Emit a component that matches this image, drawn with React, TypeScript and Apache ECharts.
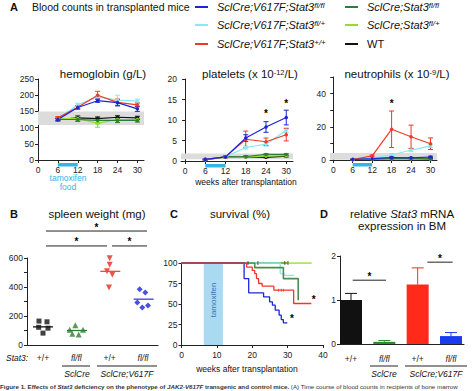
import React, { useEffect, useRef } from 'react';
import * as echarts from 'echarts';

// ---------- DATA ----------
const weeks = [6, 12, 18, 24, 30];

const hgbBlue = [125, 162, 183, 177, 158];
const hgbBlueErr = [4, 5, 5, 10, 8];
const hgbCyan = [128, 170, 195, 185, 182];
const hgbCyanErr = [4, 5, 6, 15, 6];
const hgbRed = [130, 163, 200, 178, 170];
const hgbRedErr = [4, 5, 12, 10, 6];
const hgbDkGreen = [125, 125, 122, 122, 122];
const hgbDkGreenErr = [4, 6, 8, 6, 5];
const hgbLtGreen = [128, 128, 113, 125, 125];
const hgbLtGreenErr = [4, 5, 12, 10, 5];
const hgbBlack = [125, 130, 128, 132, 130];
const hgbBlackErr = [4, 6, 5, 5, 5];
const hgbNormal = [108, 150];

const pltBlue = [0.4, 1.0, 5.6, 8.3, 10.6];
const pltBlueErr = [0.1, 0.2, 0.8, 1.3, 1.8];
const pltCyan = [0.4, 1.0, 3.3, 4.1, 7.5];
const pltCyanErr = [0.1, 0.2, 0.4, 0.5, 0.6];
const pltRed = [0.4, 1.0, 5.3, 4.7, 6.4];
const pltRedErr = [0.1, 0.2, 2.0, 0.9, 1.5];
const pltDkGreen = [0.3, 1.0, 1.1, 1.6, 1.6];
const pltDkGreenErr = [0.1, 0.1, 0.2, 0.2, 0.2];
const pltLtGreen = [0.3, 0.9, 1.0, 1.2, 1.3];
const pltLtGreenErr = [0.1, 0.1, 0.1, 0.1, 0.1];
const pltBlack = [0.3, 1.0, 1.0, 0.9, 1.2];
const pltBlackErr = [0.1, 0.1, 0.1, 0.1, 0.2];
const pltNormal = [0.4, 1.8];
const pltStars = [[24, 11.7], [30, 14.1]];

const neuBlue = [0.3, 0.8, 1.5, 1.3, 1.8];
const neuBlueErr = [0.1, 0.2, 0.4, 0.3, 0.5];
const neuCyan = [0.3, 1.0, 3.0, 6.0, 8.5];
const neuCyanErr = [0.1, 0.2, 0.8, 1.0, 1.0];
const neuRed = [0.3, 2.5, 18.5, 14, 9.8];
const neuRedErr = [0.1, 0.5, 11, 7, 3.5];
const neuDkGreen = [0.3, 0.5, 0.8, 0.8, 0.5];
const neuLtGreen = [0.3, 0.5, 0.7, 0.7, 0.5];
const neuBlack = [0.3, 0.8, 1.0, 1.0, 1.0];
const neuSmallErr = [0.1, 0.1, 0.2, 0.2, 0.2];
const neuNormal = [0.2, 4.2];
const neuStars = [[18, 34]];

const tamoxifenWeeks = [6, 12];

const spleenBlack = [[0.88, 165], [1.12, 160], [0.87, 122], [1.15, 116], [1.0, 82]];
const spleenGreen = [[1.97, 136], [1.8, 105], [2.2, 105], [2.07, 72], [1.88, 78]];
const spleenRed = [[3.0, 598], [3.0, 553], [2.92, 508], [3.08, 485], [2.98, 397]];
const spleenBlue = [[3.9, 385], [4.07, 362], [3.83, 293], [4.15, 272], [3.98, 258]];
const spleenMeans = [[1, 125], [2.02, 100], [3.02, 508], [4.02, 316]];
const spleenSig = [[1.09, 4.12, 786], [1.09, 2.92, 683], [3.07, 4.12, 683]];
const groupLabels = ['+/+', 'fl/fl', '+/+', 'fl/fl'];

const survBlue = [[0, 100], [17.7, 81], [19, 63.6], [23.2, 58.7], [24.9, 52.6], [25.7, 48.6], [26.5, 42.5], [27.6, 36.4], [28.2, 31], [28.8, 27], [29.9, 27]];
const survRed = [[0, 100], [18.4, 95], [20, 91], [20.7, 87], [21.2, 81], [21.8, 75], [22.8, 71.7], [26.1, 66.8], [31.7, 50.6], [36.7, 50.6]];
const survDkGreen = [[0, 100], [20.7, 94.3], [28.8, 81], [33, 54.7]];
const survCyan = [[0, 100], [27.9, 87], [29, 85], [31.9, 85]];
const survLtGreen = [[0, 100], [36.8, 100]];
const survBlack = [[0, 100], [30, 100]];
const survCensorTop = [[18.8, 100], [21.6, 100], [29.2, 100], [30.1, 100]];
const survCensorRed = [[27.4, 66.8], [28.2, 66.8], [28.8, 66.8]];
const survStars = [[31.2, 32], [37.4, 56]];
const survTamoxifen = [6.3, 11.7];

const mrnaValues = [1.0, 0.05, 1.35, 0.18];
const mrnaErr = [0.15, 0.03, 0.38, 0.08];
const mrnaSig = [[1.05, 2.05, 1.45], [3.29, 4.05, 1.86]];

// ---------- STYLE ----------
const C = {
  blue: '#1c24d8',
  cyan: '#86eaf0',
  red: '#f0382a',
  dkgreen: '#2f7d34',
  ltgreen: '#8ee030',
  black: '#111111',
  tam: '#33b5e8',
};
const FONT = '"Liberation Sans", Arial, Helvetica, sans-serif';

function errSeries(g: number, color: string, vals: number[], errs: number[], xs = weeks, upOnly = false, cap = 2.5) {
  return {
    type: 'custom',
    xAxisIndex: g,
    yAxisIndex: g,
    z: 3,
    renderItem: (_p: any, api: any) => {
      const x = api.value(0);
      const p1 = api.coord([x, api.value(1)]);
      const p2 = api.coord([x, api.value(2)]);
      const st = { stroke: color, lineWidth: 1 };
      const ch: any[] = [
        { type: 'line', shape: { x1: p1[0], y1: p1[1], x2: p2[0], y2: p2[1] }, style: st },
        { type: 'line', shape: { x1: p2[0] - cap, y1: p2[1], x2: p2[0] + cap, y2: p2[1] }, style: st },
      ];
      if (!upOnly) ch.push({ type: 'line', shape: { x1: p1[0] - cap, y1: p1[1], x2: p1[0] + cap, y2: p1[1] }, style: st });
      return { type: 'group', children: ch };
    },
    data: xs.map((w, i) => [w, upOnly ? vals[i] : vals[i] - errs[i], vals[i] + errs[i]]),
    encode: { x: 0, y: [1, 2] },
  };
}

function lineSeries(g: number, color: string, vals: number[], extra: any = {}) {
  return {
    type: 'line',
    xAxisIndex: g,
    yAxisIndex: g,
    data: weeks.map((w, i) => [w, vals[i]]),
    symbol: 'circle',
    symbolSize: 3.5,
    z: 4,
    lineStyle: { color, width: 1.2 },
    itemStyle: { color },
    ...extra,
  };
}

function starSeries(g: number, pts: number[][]) {
  return {
    type: 'custom',
    xAxisIndex: g,
    yAxisIndex: g,
    clip: false,
    z: 6,
    renderItem: (_p: any, api: any) => {
      const c = api.coord([api.value(0), api.value(1)]);
      return {
        type: 'text',
        x: c[0],
        y: c[1],
        style: { text: '*', fill: '#000', font: `bold 10px ${FONT}`, align: 'center', verticalAlign: 'middle', textAlign: 'center', textVerticalAlign: 'middle' },
      };
    },
    data: pts,
  };
}

function sigSeries(g: number, rows: number[][]) {
  return {
    type: 'custom',
    xAxisIndex: g,
    yAxisIndex: g,
    clip: false,
    z: 6,
    renderItem: (_p: any, api: any) => {
      const a = api.coord([api.value(0), api.value(2)]);
      const b = api.coord([api.value(1), api.value(2)]);
      return {
        type: 'group',
        children: [
          { type: 'line', shape: { x1: a[0], y1: a[1], x2: b[0], y2: b[1] }, style: { stroke: '#222', lineWidth: 1 } },
          {
            type: 'text',
            x: (a[0] + b[0]) / 2,
            y: a[1] - 4,
            style: { text: '*', fill: '#000', font: `bold 10px ${FONT}`, align: 'center', verticalAlign: 'middle', textAlign: 'center', textVerticalAlign: 'middle' },
          },
        ],
      };
    },
    data: rows,
  };
}

function tamBarSeries(g: number, ymin: number) {
  return {
    type: 'custom',
    xAxisIndex: g,
    yAxisIndex: g,
    clip: false,
    z: 6,
    renderItem: (_p: any, api: any) => {
      const a = api.coord([api.value(0), ymin]);
      const b = api.coord([api.value(1), ymin]);
      return { type: 'rect', shape: { x: a[0], y: a[1] + 3, width: b[0] - a[0], height: 3.5 }, style: { fill: C.tam } };
    },
    data: [tamoxifenWeeks],
  };
}

function bandArea(range: number[]) {
  return {
    silent: true,
    itemStyle: { color: '#dcdcdc' },
    data: [[{ yAxis: range[0] }, { yAxis: range[1] }]],
  };
}

const axisLineStyle = { lineStyle: { color: '#222', width: 1 } };
const tickStyle = { show: true, length: 3, lineStyle: { color: '#222' } };
const labelStyle = { fontSize: 8.5, color: '#222', fontFamily: FONT, margin: 4 };

function valX(g: number, min: number, max: number, custom: number[], fmt?: any) {
  return {
    type: 'value',
    gridIndex: g,
    min,
    max,
    splitLine: { show: false },
    axisLine: axisLineStyle,
    axisTick: { ...tickStyle, customValues: custom },
    axisLabel: { ...labelStyle, customValues: custom, formatter: fmt, margin: 5 },
  };
}
function valY(g: number, max: number, interval: number, labelEvery?: number) {
  return {
    type: 'value',
    gridIndex: g,
    min: 0,
    max,
    interval,
    splitLine: { show: false },
    axisLine: { show: true, ...axisLineStyle },
    axisTick: tickStyle,
    axisLabel: {
      ...labelStyle,
      formatter: (v: number) => (labelEvery ? (Math.round(v) % labelEvery === 0 ? String(v) : '') : String(v)),
    },
  };
}

const sixes = [0, 6, 12, 18, 24, 30];

function T(x: number, y: number, text: string, o: any = {}) {
  return {
    type: 'text',
    x,
    y,
    rotation: o.rotation || 0,
    z: 10,
    style: {
      text,
      fill: o.fill || '#111',
      font: `${o.style || 'normal'} ${o.weight || 'normal'} ${o.size || 10}px ${FONT}`,
      textAlign: o.align || 'center',
      textVerticalAlign: 'middle',
      align: o.align || 'center',
      verticalAlign: 'middle',
      rich: o.rich,
    },
  };
}
function L(x1: number, y1: number, x2: number, y2: number, color = '#222', w = 1) {
  return { type: 'line', z: 10, shape: { x1, y1, x2, y2 }, style: { stroke: color, lineWidth: w } };
}

const supRich = (size: number) => ({
  i: { fontStyle: 'italic', fontSize: size, fontFamily: FONT, fill: '#111', color: '#111' },
  s: { fontStyle: 'italic', fontSize: size - 3, fontFamily: FONT, verticalAlign: 'top', color: '#111' },
  n: { fontSize: size - 3, fontFamily: FONT, verticalAlign: 'top', color: '#111' },
});

const legendItems = [
  { x: 195, y: 7, color: C.blue, text: '{i|SclCre;V617F;Stat3}{s|fl/fl}' },
  { x: 195, y: 25, color: C.cyan, text: '{i|SclCre;V617F;Stat3}{s|fl/+}' },
  { x: 195, y: 44, color: C.red, text: '{i|SclCre;V617F;Stat3}{s|+/+}' },
  { x: 345, y: 7, color: C.dkgreen, text: '{i|SclCre;Stat3}{s|fl/fl}' },
  { x: 345, y: 25, color: C.ltgreen, text: '{i|SclCre;Stat3}{s|fl/+}' },
  { x: 345, y: 44, color: C.black, text: 'WT' },
];

export default function App() {
  const ref = useRef<HTMLDivElement>(null);
  useEffect(() => {
    if (!ref.current) return;
    const chart = echarts.init(ref.current, undefined, { renderer: 'svg' });

    const graphic: any[] = [];
    // Panel A header
    graphic.push(T(10, 7, 'A', { weight: 'bold', size: 11, align: 'left' }));
    graphic.push(T(32, 7, 'Blood counts in transplanted mice', { size: 10.5, align: 'left' }));
    legendItems.forEach((it) => {
      graphic.push(L(it.x, it.y, it.x + 13, it.y, it.color, 2));
      graphic.push(T(it.x + 22, it.y, it.text, { size: 11, align: 'left', rich: supRich(11) }));
    });
    graphic.push(T(103, 74, 'hemoglobin (g/L)', { size: 11.5 }));
    graphic.push(T(250, 74, 'platelets (x 10{n|-12}/L)', { size: 11.5, rich: { n: { fontSize: 7.5, verticalAlign: 'top', fontFamily: FONT } } }));
    graphic.push(T(397, 74, 'neutrophils (x 10{n|-9}/L)', { size: 11.5, rich: { n: { fontSize: 7.5, verticalAlign: 'top', fontFamily: FONT } } }));
    graphic.push(T(68, 178, 'tamoxifen', { size: 8.5, fill: C.tam }));
    graphic.push(T(68, 187, 'food', { size: 8.5, fill: C.tam }));
    graphic.push(T(246, 182, 'weeks after transplantation', { size: 8.5 }));

    // Panel B
    graphic.push(T(10, 214, 'B', { weight: 'bold', size: 11, align: 'left' }));
    graphic.push(T(97, 214, 'spleen weight (mg)', { size: 11.5 }));
    graphic.push(T(6, 358, 'Stat3:', { size: 8.5, style: 'italic', align: 'left' }));
    graphic.push(L(62, 366, 90, 366));
    graphic.push(T(77, 374, 'SclCre', { size: 8.5, style: 'italic' }));
    graphic.push(L(97, 366, 157, 366));
    graphic.push(T(127, 374, 'SclCre;V617F', { size: 8.5, style: 'italic' }));

    // Panel C
    graphic.push(T(170, 214, 'C', { weight: 'bold', size: 11, align: 'left' }));
    graphic.push(T(240, 214, 'survival (%)', { size: 11.5 }));
    graphic.push(T(213, 300, 'tamoxifen', { size: 8, fill: '#3b6fb8', rotation: Math.PI / 2 }));
    graphic.push(T(247, 369, 'weeks after transplantation', { size: 8.5 }));

    // Panel D
    graphic.push(T(320, 214, 'D', { weight: 'bold', size: 11, align: 'left' }));
    graphic.push(T(402, 214, 'relative {i|Stat3} mRNA', { size: 11.5, rich: { i: { fontStyle: 'italic', fontSize: 11.5, fontFamily: FONT } } }));
    graphic.push(T(402, 226, 'expression in BM', { size: 11.5 }));
    graphic.push(L(370, 366, 398, 366));
    graphic.push(T(384, 374, 'SclCre', { size: 8.5, style: 'italic' }));
    graphic.push(L(405, 366, 467, 366));
    graphic.push(T(436, 374, 'SclCre;V617F', { size: 8.5, style: 'italic' }));

    // caption
    graphic.push({
      type: 'text',
      x: 0,
      y: 386.5,
      z: 10,
      style: {
        text: '{b|Figure 1. Effects of }{bi|Stat3}{b| deficiency on the phenotype of }{bi|JAK2-V617F}{b| transgenic and control mice.} (A) Time course of blood counts in recipients of bone marrow',
        font: `6.2px ${FONT}`,
        fill: '#333',
        textVerticalAlign: 'middle',
        verticalAlign: 'middle',
        rich: {
          b: { fontWeight: 'bold', fontSize: 6.2, fontFamily: FONT, fill: '#333', color: '#333' },
          bi: { fontWeight: 'bold', fontStyle: 'italic', fontSize: 6.2, fontFamily: FONT, color: '#333' },
        },
      },
    });

    const labelFmtGroup = (v: number) => {
      const s = groupLabels[Math.round(v) - 1] || '';
      return s === 'fl/fl' ? '{i|fl/fl}' : s;
    };
    const groupRich = { i: { fontStyle: 'italic', fontSize: 8.5, fontFamily: FONT, color: '#222' } };

    const xB: any = valX(3, 0.52, 4.45, [1, 2, 3, 4], labelFmtGroup);
    xB.axisTick = { show: false };
    xB.axisLabel.rich = groupRich;
    xB.axisLabel.margin = 8;
    const xD: any = valX(5, 0.67, 4.39, [1, 2, 3, 4], labelFmtGroup);
    xD.axisTick = { show: false };
    xD.axisLabel.rich = groupRich;
    xD.axisLabel.margin = 10;

    const series: any[] = [];
    // Panel A series
    const aSets = [
      { g: 0, d: [hgbBlack, hgbLtGreen, hgbDkGreen, hgbCyan, hgbRed, hgbBlue], e: [hgbBlackErr, hgbLtGreenErr, hgbDkGreenErr, hgbCyanErr, hgbRedErr, hgbBlueErr], band: hgbNormal },
      { g: 1, d: [pltBlack, pltLtGreen, pltDkGreen, pltCyan, pltRed, pltBlue], e: [pltBlackErr, pltLtGreenErr, pltDkGreenErr, pltCyanErr, pltRedErr, pltBlueErr], band: pltNormal },
      { g: 2, d: [neuBlack, neuLtGreen, neuDkGreen, neuCyan, neuRed, neuBlue], e: [neuSmallErr, neuSmallErr, neuSmallErr, neuCyanErr, neuRedErr, neuBlueErr], band: neuNormal },
    ];
    const aColors = [C.black, C.ltgreen, C.dkgreen, C.cyan, C.red, C.blue];
    aSets.forEach((set) => {
      set.d.forEach((vals, k) => {
        const extra: any = k === 0 ? { markArea: bandArea(set.band) } : {};
        series.push(lineSeries(set.g, aColors[k], vals, extra));
        series.push(errSeries(set.g, aColors[k], vals, set.e[k]));
      });
      series.push(tamBarSeries(set.g, 0));
    });
    series.push(starSeries(1, pltStars));
    series.push(starSeries(2, neuStars));

    // Panel B
    const scat = (data: number[][], color: string, symbol: string, rot = 0, size = 5.5) => ({
      type: 'scatter',
      xAxisIndex: 3,
      yAxisIndex: 3,
      data,
      symbol,
      symbolRotate: rot,
      symbolSize: size,
      itemStyle: { color },
      z: 4,
    });
    series.push(scat(spleenBlack, C.black, 'rect', 0, 5));
    series.push(scat(spleenGreen, C.dkgreen, 'triangle', 0, 6));
    series.push(scat(spleenRed, '#e8281e', 'triangle', 180, 6));
    series.push(scat(spleenBlue, C.blue, 'diamond', 0, 6));
    const meanColors = [C.black, C.dkgreen, '#ee4a40', '#3a3ae0'];
    series.push({
      type: 'custom',
      xAxisIndex: 3,
      yAxisIndex: 3,
      z: 5,
      renderItem: (p: any, api: any) => {
        const a = api.coord([api.value(0) - 0.3, api.value(1)]);
        const b = api.coord([api.value(0) + 0.3, api.value(1)]);
        return { type: 'line', shape: { x1: a[0], y1: a[1], x2: b[0], y2: b[1] }, style: { stroke: meanColors[p.dataIndex], lineWidth: 1.3 } };
      },
      data: spleenMeans,
    });
    series.push(sigSeries(3, spleenSig));

    // Panel C
    const surv = (data: number[][], color: string, w = 1.3) => ({
      type: 'line',
      xAxisIndex: 4,
      yAxisIndex: 4,
      data,
      step: 'end',
      showSymbol: false,
      symbol: 'none',
      lineStyle: { color, width: w },
      z: 4,
    });
    const s0: any = surv(survBlack, C.black);
    s0.markArea = { silent: true, itemStyle: { color: '#a9daf2' }, data: [[{ xAxis: survTamoxifen[0] }, { xAxis: survTamoxifen[1] }]] };
    series.push(s0);
    series.push(surv(survLtGreen, C.ltgreen));
    series.push(surv(survCyan, C.cyan));
    series.push(surv(survDkGreen, '#4e8a4e', 1.6));
    series.push(surv(survBlue, C.blue));
    series.push(surv(survRed, C.red));
    series.push({
      type: 'scatter', xAxisIndex: 4, yAxisIndex: 4, symbol: 'rect', symbolSize: [1, 4], itemStyle: { color: '#333' }, data: survCensorTop, z: 5,
    });
    series.push({
      type: 'scatter', xAxisIndex: 4, yAxisIndex: 4, symbol: 'rect', symbolSize: [1, 3], itemStyle: { color: C.red }, data: survCensorRed, z: 5,
    });
    series.push(starSeries(4, survStars));

    // Panel D
    const barColors = [C.black, '#2e8b2e', '#ff2a1a', '#1a3cf0'];
    series.push({
      type: 'bar',
      xAxisIndex: 5,
      yAxisIndex: 5,
      barWidth: 22,
      data: mrnaValues.map((v, i) => ({ value: [i + 1, v], itemStyle: { color: barColors[i] } })),
      z: 3,
    });
    mrnaValues.forEach((v, i) => {
      series.push(errSeries(5, barColors[i], [v], [mrnaErr[i]], [i + 1], true, 6));
    });
    series.push(sigSeries(5, mrnaSig));

    const option: any = {
      animation: false,
      backgroundColor: '#ffffff',
      textStyle: { fontFamily: FONT },
      grid: [
        { left: 38, top: 79, width: 106, height: 81 },
        { left: 181, top: 79, width: 112, height: 82 },
        { left: 330, top: 77, width: 107, height: 83 },
        { left: 27, top: 258, width: 131, height: 87 },
        { left: 181.5, top: 263, width: 141.5, height: 82 },
        { left: 340, top: 256, width: 124, height: 88 },
      ],
      xAxis: [
        valX(0, 0, 32, sixes),
        valX(1, -1.2, 32, sixes),
        valX(2, -1, 32, sixes),
        xB,
        valX(4, 0, 40, [0, 10, 20, 30, 40]),
        xD,
      ],
      yAxis: [
        valY(0, 250, 50),
        valY(1, 20, 5),
        valY(2, 50, 10, 20),
        valY(3, 600, 100, 200),
        valY(4, 100, 25),
        valY(5, 2, 1),
      ],
      series,
      graphic,
    };
    chart.setOption(option);
    return () => chart.dispose();
  }, []);
  return <div ref={ref} style={{ position: 'fixed', left: 0, top: 0, width: 474, height: 391, background: '#fff' }} />;
}
